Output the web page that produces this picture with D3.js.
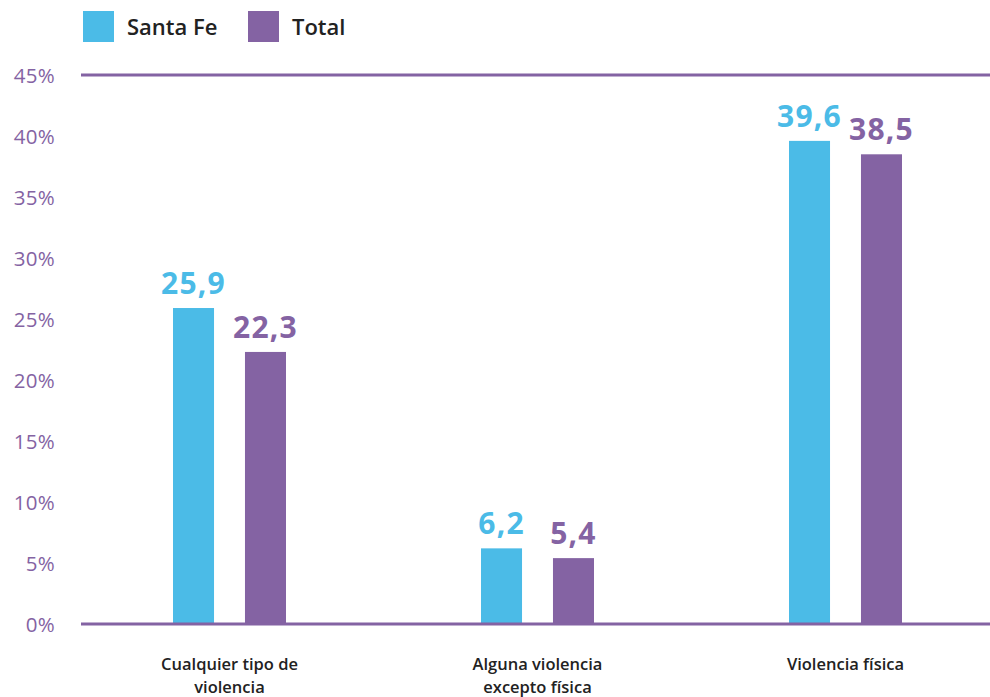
<!DOCTYPE html>
<html>
<head>
<meta charset="utf-8">
<script src="https://cdn.jsdelivr.net/npm/d3@7"></script>
<style>
  html, body { margin: 0; padding: 0; background: #fff; }
  svg { display: block; }
</style>
</head>
<body>
<svg id="chart" width="990" height="697"></svg>
<script>
// Categories (x-axis groups), each label split into two lines
const categories = ["Cualquier tipo de violencia", "Alguna violencia excepto física", "Violencia física"];
const categoryLines = [["Cualquier tipo de", "violencia"], ["Alguna violencia", "excepto física"], ["Violencia física"]];
const seriesNames = ["Santa Fe", "Total"];
const santaFe = [25.9, 6.2, 39.6];
const total = [22.3, 5.4, 38.5];
const yTicks = [0, 5, 10, 15, 20, 25, 30, 35, 40, 45];

const colors = { "Santa Fe": "#4bbbe7", "Total": "#8463a3" };
const axisColor = "#8463a3";

const svg = d3.select("#chart");
const W = 990, H = 697;

const y = d3.scaleLinear().domain([0, 45]).range([624, 75]);
const x0 = d3.scaleBand().domain(categories).range([75.5, 999.5]).padding(0);
const x1 = d3.scaleBand().domain(seriesNames).range([0, 113]).paddingInner(0.43).paddingOuter(0);

const rows = categories.map((c, i) => ({
  category: c,
  values: [
    { series: "Santa Fe", value: santaFe[i] },
    { series: "Total", value: total[i] }
  ]
}));

// Y tick labels
const yAxis = d3.axisLeft(y).tickValues(yTicks).tickFormat(d => d + "%").tickSize(0).tickPadding(0);
const gy = svg.append("g").attr("transform", "translate(55,0)").call(yAxis);
gy.select(".domain").remove();
gy.selectAll("text")
  .attr("fill", axisColor)
  .attr("font-family", "'Open Sans', sans-serif")
  .attr("font-weight", 400)
  .attr("font-size", 20.5)
  .attr("letter-spacing", 0.3)
  .attr("dy", "0.36em");

// Top rule
svg.append("line")
  .attr("x1", 81).attr("x2", W)
  .attr("y1", y(45)).attr("y2", y(45))
  .attr("stroke", axisColor).attr("stroke-width", 3);

// Bars
const groups = svg.append("g").selectAll("g")
  .data(rows).join("g")
  .attr("transform", d => `translate(${x0(d.category) + x0.bandwidth() / 2 - 56.5},0)`);

groups.selectAll("rect")
  .data(d => d.values).join("rect")
  .attr("x", d => x1(d.series))
  .attr("width", x1.bandwidth())
  .attr("y", d => y(d.value))
  .attr("height", d => y(0) - y(d.value))
  .attr("fill", d => colors[d.series]);

groups.selectAll("text.val")
  .data(d => d.values).join("text")
  .attr("class", "val")
  .attr("x", d => x1(d.series) + x1.bandwidth() / 2)
  .attr("y", d => y(d.value) - 14)
  .attr("text-anchor", "middle")
  .attr("fill", d => colors[d.series])
  .attr("font-family", "'Open Sans', sans-serif")
  .attr("font-weight", 700)
  .attr("font-size", 30)
  .attr("letter-spacing", 1.2)
  .text(d => d3.format(".1f")(d.value).replace(".", ","));

// Baseline
svg.append("line")
  .attr("x1", 81).attr("x2", W)
  .attr("y1", y(0)).attr("y2", y(0))
  .attr("stroke", axisColor).attr("stroke-width", 3);

// Category labels
const xl = svg.append("g").selectAll("text")
  .data(categories).join("text")
  .attr("x", d => x0(d) + x0.bandwidth() / 2)
  .attr("y", 670)
  .attr("text-anchor", "middle")
  .attr("fill", "#222")
  .attr("font-family", "'Open Sans', sans-serif")
  .attr("font-weight", 600)
  .attr("font-size", 16.5);
xl.each(function(d, i) {
  d3.select(this).selectAll("tspan")
    .data(categoryLines[i]).join("tspan")
    .attr("x", x0(d) + x0.bandwidth() / 2)
    .attr("dy", (t, j) => j === 0 ? 0 : 23)
    .text(t => t);
});

// Legend
const legend = svg.append("g").selectAll("g")
  .data(seriesNames).join("g")
  .attr("transform", (d, i) => `translate(${[83, 248][i]},11)`);
legend.append("rect")
  .attr("width", 31).attr("height", 31)
  .attr("fill", d => colors[d]);
legend.append("text")
  .attr("x", 44).attr("y", 24)
  .attr("fill", "#222")
  .attr("font-family", "'Open Sans', sans-serif")
  .attr("font-weight", 600)
  .attr("font-size", 22)
  .text(d => d);
</script>
</body>
</html>
